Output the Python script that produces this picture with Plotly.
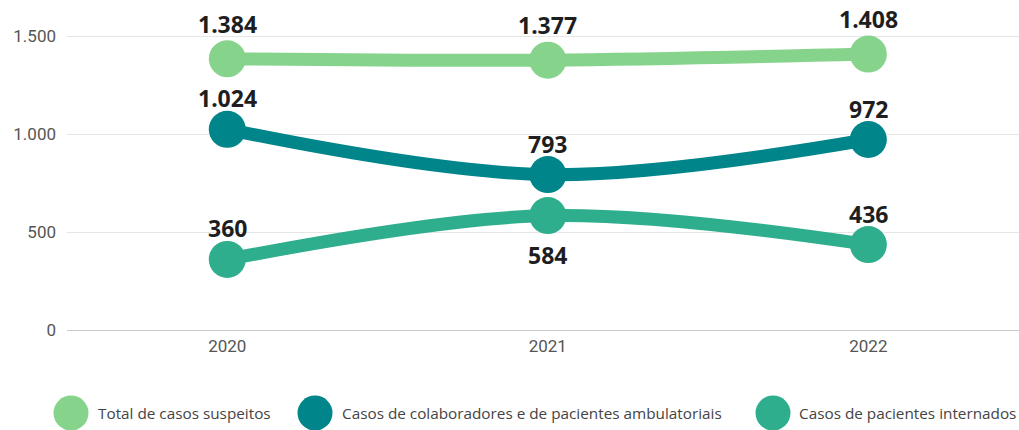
import plotly.graph_objects as go

years = ["2020", "2021", "2022"]
total_suspeitos = [1384, 1377, 1408]
colab_ambulatoriais = [1024, 793, 972]
pacientes_internados = [360, 584, 436]

series_names = [
    "Total de casos suspeitos",
    "Casos de colaboradores e de pacientes ambulatoriais",
    "Casos de pacientes internados",
]
colors = ["#86D48C", "#00858A", "#2FAE8D"]
y_ticks = [0, 500, 1000, 1500]

series = [total_suspeitos, colab_ambulatoriais, pacientes_internados]
label_below = [
    [False, False, False],
    [False, False, False],
    [False, True, False],
]
label_gap_above = [35, 31, 31]


def fmt(v):
    return f"{v:,}".replace(",", ".")


fig = go.Figure()
for name, vals, col, below, gap in zip(series_names, series, colors, label_below, label_gap_above):
    fig.add_trace(go.Scatter(
        x=years, y=vals, name=name, mode="lines+markers",
        line=dict(color=col, width=13, shape="spline"),
        marker=dict(color=col, size=37),
        showlegend=False, cliponaxis=False, hoverinfo="skip",
    ))
    for i, (v, b) in enumerate(zip(vals, below)):
        fig.add_annotation(
            x=i, y=v, xref="x", yref="y", text="<b>" + fmt(v) + "</b>",
            showarrow=False, xanchor="center", yanchor="middle",
            yshift=-39 if b else gap,
            font=dict(family="Noto Sans", size=23, color="#1e1e1e"),
        )

W, H = 1019, 430
PL, PB = 67, 100
PW, PH = W - PL, H - PB
leg_x = [71, 315, 773]
leg_text_x = [96, 340, 797]
leg_y = 413
for name, col, cx, tx in zip(series_names, colors, leg_x, leg_text_x):
    fig.add_shape(type="circle", xref="paper", yref="paper",
                  x0=(cx - 17.5 - PL) / PW, x1=(cx + 17.5 - PL) / PW,
                  y0=(PH - leg_y - 17.5) / PH, y1=(PH - leg_y + 17.5) / PH,
                  line=dict(width=0), fillcolor=col)
    fig.add_annotation(text=name, xref="paper", yref="paper",
                       x=(tx - PL) / PW, y=(PH - leg_y) / PH,
                       xanchor="left", yanchor="middle", showarrow=False,
                       font=dict(family="Open Sans", size=15.3, color="#444444"))

fig.update_layout(
    width=W, height=H,
    margin=dict(l=PL, r=0, t=0, b=PB, autoexpand=False),
    paper_bgcolor="white", plot_bgcolor="white",
    separators=",.",
    font=dict(family="Roboto", color="#555555"),
    xaxis=dict(type="category", range=[-0.5, 2.47], showgrid=False,
               showline=False, ticks="", ticklabelstandoff=4,
               tickfont=dict(family="Roboto", size=17, color="#555555")),
    yaxis=dict(range=[0, 1684], tickvals=y_ticks, tickformat=",",
               gridcolor="#e6e6e6", zeroline=True, zerolinecolor="#cccccc",
               zerolinewidth=1, ticklabelstandoff=10,
               tickfont=dict(family="Roboto", size=17, color="#555555")),
)

fig.write_html("out.html", config={"displayModeBar": False},
               post_script="document.body.style.margin='0px';document.body.style.overflow='hidden';")
